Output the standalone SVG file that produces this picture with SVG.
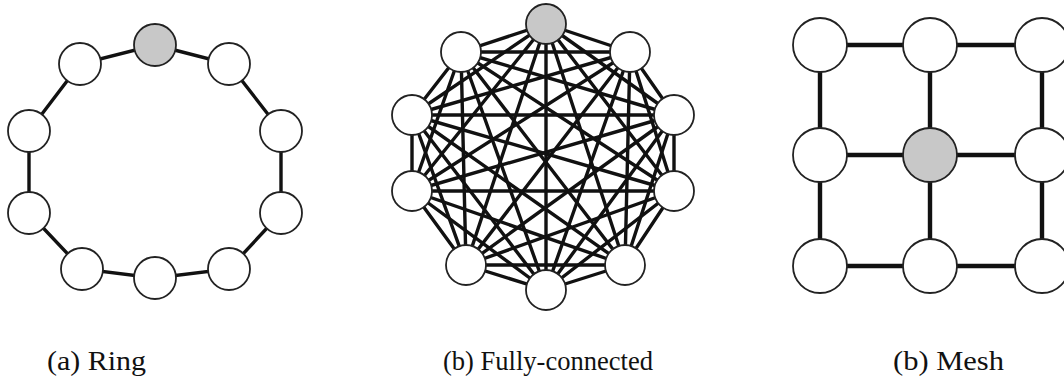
<svg xmlns="http://www.w3.org/2000/svg" width="1064" height="390" viewBox="0 0 1064 390">
<style>
.edge{stroke:#111;stroke-width:3.4;fill:none;stroke-linecap:round}
.fe{stroke:#111;stroke-width:3.4;stroke-linecap:round}
.me{stroke:#111;stroke-width:4.4}
.n{fill:#fff;stroke:#222;stroke-width:1.8}
.g{fill:#c8c8c8;stroke:#222;stroke-width:1.8}
.cap{font-family:"Liberation Serif","DejaVu Serif",serif;font-size:28px;fill:#111}
</style>
<rect width="1064" height="390" fill="#fff"/>
<g id="connectors">
  <path class="edge" d="M155,45 L229,64 L281,131 L281,213 L229,269 L155,278 L82,269 L29,213 L29,131 L80,64 Z"/>
  <g class="fe">
    <line x1="546" y1="24" x2="630" y2="52"/><line x1="546" y1="24" x2="674" y2="115"/><line x1="546" y1="24" x2="674" y2="191"/><line x1="546" y1="24" x2="625" y2="265"/><line x1="546" y1="24" x2="546" y2="290"/><line x1="546" y1="24" x2="466" y2="265"/><line x1="546" y1="24" x2="412" y2="191"/><line x1="546" y1="24" x2="412" y2="115"/><line x1="546" y1="24" x2="461" y2="52"/>
    <line x1="630" y1="52" x2="674" y2="115"/><line x1="630" y1="52" x2="674" y2="191"/><line x1="630" y1="52" x2="625" y2="265"/><line x1="630" y1="52" x2="546" y2="290"/><line x1="630" y1="52" x2="466" y2="265"/><line x1="630" y1="52" x2="412" y2="191"/><line x1="630" y1="52" x2="412" y2="115"/><line x1="630" y1="52" x2="461" y2="52"/>
    <line x1="674" y1="115" x2="674" y2="191"/><line x1="674" y1="115" x2="625" y2="265"/><line x1="674" y1="115" x2="546" y2="290"/><line x1="674" y1="115" x2="466" y2="265"/><line x1="674" y1="115" x2="412" y2="191"/><line x1="674" y1="115" x2="412" y2="115"/><line x1="674" y1="115" x2="461" y2="52"/>
    <line x1="674" y1="191" x2="625" y2="265"/><line x1="674" y1="191" x2="546" y2="290"/><line x1="674" y1="191" x2="466" y2="265"/><line x1="674" y1="191" x2="412" y2="191"/><line x1="674" y1="191" x2="412" y2="115"/><line x1="674" y1="191" x2="461" y2="52"/>
    <line x1="625" y1="265" x2="546" y2="290"/><line x1="625" y1="265" x2="466" y2="265"/><line x1="625" y1="265" x2="412" y2="191"/><line x1="625" y1="265" x2="412" y2="115"/><line x1="625" y1="265" x2="461" y2="52"/>
    <line x1="546" y1="290" x2="466" y2="265"/><line x1="546" y1="290" x2="412" y2="191"/><line x1="546" y1="290" x2="412" y2="115"/><line x1="546" y1="290" x2="461" y2="52"/>
    <line x1="466" y1="265" x2="412" y2="191"/><line x1="466" y1="265" x2="412" y2="115"/><line x1="466" y1="265" x2="461" y2="52"/>
    <line x1="412" y1="191" x2="412" y2="115"/><line x1="412" y1="191" x2="461" y2="52"/>
    <line x1="412" y1="115" x2="461" y2="52"/>
  </g>
  <g class="me">
    <line x1="820" y1="45" x2="1042" y2="45"/><line x1="820" y1="155" x2="1042" y2="155"/><line x1="820" y1="266" x2="1042" y2="266"/>
    <line x1="820" y1="45" x2="820" y2="266"/><line x1="930" y1="45" x2="930" y2="266"/><line x1="1042" y1="45" x2="1042" y2="266"/>
  </g>
</g>
<g id="ring">
  <circle id="r0" class="g" cx="155" cy="45" r="21"/>
  <circle id="r1" class="n" cx="229" cy="64" r="21"/>
  <circle id="r2" class="n" cx="281" cy="131" r="21"/>
  <circle id="r3" class="n" cx="281" cy="213" r="21"/>
  <circle id="r4" class="n" cx="229" cy="269" r="21"/>
  <circle id="r5" class="n" cx="155" cy="278" r="21"/>
  <circle id="r6" class="n" cx="82" cy="269" r="21"/>
  <circle id="r7" class="n" cx="29" cy="213" r="21"/>
  <circle id="r8" class="n" cx="29" cy="131" r="21"/>
  <circle id="r9" class="n" cx="80" cy="64" r="21"/>
</g>
<g id="full">
  <circle id="f0" class="g" cx="546" cy="24" r="20"/>
  <circle id="f1" class="n" cx="630" cy="52" r="20"/>
  <circle id="f2" class="n" cx="674" cy="115" r="20"/>
  <circle id="f3" class="n" cx="674" cy="191" r="20"/>
  <circle id="f4" class="n" cx="625" cy="265" r="20"/>
  <circle id="f5" class="n" cx="546" cy="290" r="20"/>
  <circle id="f6" class="n" cx="466" cy="265" r="20"/>
  <circle id="f7" class="n" cx="412" cy="191" r="20"/>
  <circle id="f8" class="n" cx="412" cy="115" r="20"/>
  <circle id="f9" class="n" cx="461" cy="52" r="20"/>
</g>
<g id="mesh">
  <circle id="m00" class="n" cx="820" cy="45" r="27"/>
  <circle id="m01" class="n" cx="930" cy="45" r="27"/>
  <circle id="m02" class="n" cx="1042" cy="45" r="27"/>
  <circle id="m10" class="n" cx="820" cy="155" r="27"/>
  <circle id="m11" class="g" cx="930" cy="155" r="27"/>
  <circle id="m12" class="n" cx="1042" cy="155" r="27"/>
  <circle id="m20" class="n" cx="820" cy="266" r="27"/>
  <circle id="m21" class="n" cx="930" cy="266" r="27"/>
  <circle id="m22" class="n" cx="1042" cy="266" r="27"/>
</g>
<g id="captions">
  <text class="cap" x="47" y="370" textLength="99" lengthAdjust="spacingAndGlyphs">(a) Ring</text>
  <text class="cap" x="443" y="370" textLength="210" lengthAdjust="spacingAndGlyphs">(b) Fully-connected</text>
  <text class="cap" x="893" y="370" textLength="111" lengthAdjust="spacingAndGlyphs">(b) Mesh</text>
</g>
</svg>
